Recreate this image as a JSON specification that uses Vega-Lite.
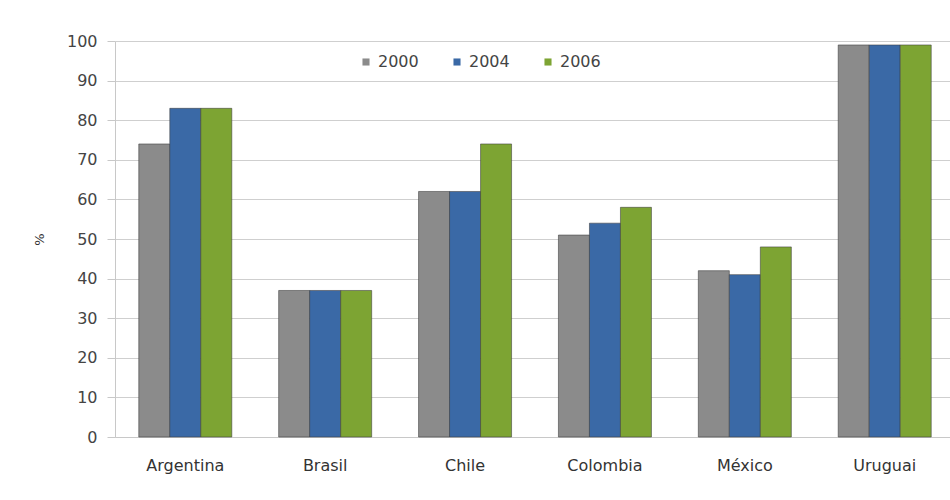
{
  "$schema": "https://vega.github.io/schema/vega-lite/v6.json",
  "autosize": "none",
  "width": 840,
  "height": 396,
  "padding": {"left": 115, "top": 41, "right": 0, "bottom": 63},
  "background": "white",
  "data": {
    "values": [
      {"pais": "Argentina", "ano": "2000", "valor": 74},
      {"pais": "Argentina", "ano": "2004", "valor": 83},
      {"pais": "Argentina", "ano": "2006", "valor": 83},
      {"pais": "Brasil", "ano": "2000", "valor": 37},
      {"pais": "Brasil", "ano": "2004", "valor": 37},
      {"pais": "Brasil", "ano": "2006", "valor": 37},
      {"pais": "Chile", "ano": "2000", "valor": 62},
      {"pais": "Chile", "ano": "2004", "valor": 62},
      {"pais": "Chile", "ano": "2006", "valor": 74},
      {"pais": "Colombia", "ano": "2000", "valor": 51},
      {"pais": "Colombia", "ano": "2004", "valor": 54},
      {"pais": "Colombia", "ano": "2006", "valor": 58},
      {"pais": "México", "ano": "2000", "valor": 42},
      {"pais": "México", "ano": "2004", "valor": 41},
      {"pais": "México", "ano": "2006", "valor": 48},
      {"pais": "Uruguai", "ano": "2000", "valor": 99},
      {"pais": "Uruguai", "ano": "2004", "valor": 99},
      {"pais": "Uruguai", "ano": "2006", "valor": 99}
    ]
  },
  "mark": {"type": "bar", "stroke": "#3a3a3a", "strokeOpacity": 0.55, "strokeWidth": 1},
  "encoding": {
    "x": {
      "field": "pais",
      "type": "nominal",
      "sort": null,
      "scale": {"paddingInner": 0.335, "paddingOuter": 0.17},
      "axis": {
        "title": null,
        "labelAngle": 0,
        "labelFont": "DejaVu Sans",
        "labelFontSize": 16,
        "labelColor": "#333333",
        "labelPadding": 20,
        "ticks": false,
        "domainColor": "#c8c8c8"
      }
    },
    "xOffset": {"field": "ano", "type": "nominal", "scale": {"paddingInner": 0}},
    "y": {
      "field": "valor",
      "type": "quantitative",
      "scale": {"domain": [0, 100], "nice": false},
      "axis": {
        "title": "%",
        "titleFont": "DejaVu Sans",
        "titleFontSize": 13,
        "titleFontWeight": "normal",
        "titleColor": "#333333",
        "titlePadding": 20,
        "values": [0, 10, 20, 30, 40, 50, 60, 70, 80, 90, 100],
        "labelFont": "DejaVu Sans",
        "labelFontSize": 16,
        "labelColor": "#444444",
        "labelPadding": 10,
        "tickSize": 8,
        "tickColor": "#c8c8c8",
        "domainColor": "#c8c8c8",
        "gridColor": "#cfcfcf",
        "grid": true
      }
    },
    "color": {
      "field": "ano",
      "type": "nominal",
      "scale": {"domain": ["2000", "2004", "2006"], "range": ["#8b8b8b", "#3a69a6", "#7da433"]},
      "legend": {
        "title": null,
        "orient": "none",
        "legendX": 243,
        "legendY": 13,
        "direction": "horizontal",
        "symbolType": "square",
        "symbolSize": 50,
        "symbolStrokeWidth": 0,
        "labelFont": "DejaVu Sans",
        "labelFontSize": 16,
        "labelColor": "#444444",
        "labelOffset": 4,
        "columnPadding": 30,
        "fillColor": "white"
      }
    }
  },
  "config": {"view": {"stroke": null}}
}
